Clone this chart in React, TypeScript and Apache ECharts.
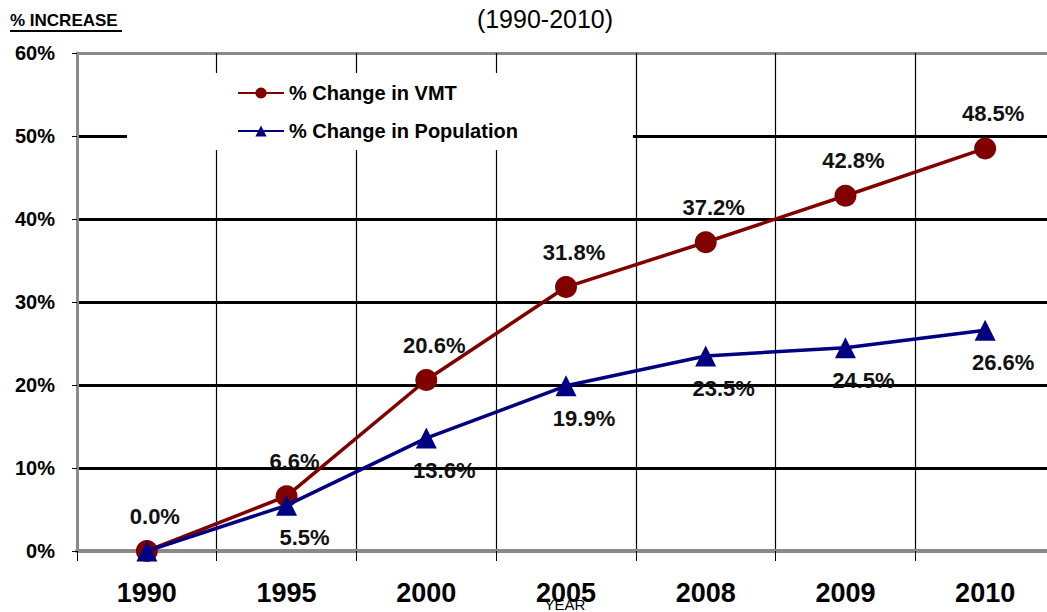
import React, { useEffect, useRef } from "react";
import * as echarts from "echarts";

const years = ["1990", "1995", "2000", "2005", "2008", "2009", "2010"];
const vmtChange = [0.0, 6.6, 20.6, 31.8, 37.2, 42.8, 48.5];
const popChange = [0.0, 5.5, 13.6, 19.9, 23.5, 24.5, 26.6];
const yTicks = [0, 10, 20, 30, 40, 50, 60];

const FONT = "'Liberation Sans', Arial, sans-serif";

export default function App() {
  const ref = useRef<HTMLDivElement>(null);
  useEffect(() => {
    if (!ref.current) return;
    const chart = echarts.init(ref.current, null, { renderer: "svg" });
    chart.setOption({
      animation: false,
      backgroundColor: "#ffffff",
      textStyle: { fontFamily: FONT },
      grid: { left: 77, width: 978, top: 53, height: 498, containLabel: false },
      graphic: [
        {
          type: "text",
          left: 10,
          top: 12,
          style: { text: "% INCREASE", font: `bold 17px ${FONT}`, fill: "#000" },
        },
        {
          type: "line",
          shape: { x1: 10, y1: 31, x2: 122, y2: 31 },
          style: { stroke: "#000", lineWidth: 2 },
        },
        {
          type: "text",
          x: 545,
          y: 19,
          style: {
            text: "(1990-2010)",
            font: `25px ${FONT}`,
            fill: "#000",
            align: "center",
            verticalAlign: "middle",
          },
        },
        {
          type: "text",
          x: 565,
          y: 604,
          z: 10,
          style: {
            text: "YEAR",
            font: `15px ${FONT}`,
            fill: "#000",
            align: "center",
            verticalAlign: "middle",
          },
        },
      ],
      legend: {
        orient: "vertical",
        left: 127,
        top: 73,
        padding: [10, 115, 9, 110],
        backgroundColor: "#ffffff",
        itemWidth: 46,
        itemHeight: 14,
        itemGap: 18,
        textStyle: { fontSize: 20, fontWeight: "bold", color: "#000", fontFamily: FONT },
        data: ["% Change in VMT", "% Change in Population"],
      },
      xAxis: {
        type: "category",
        data: years,
        boundaryGap: true,
        axisLine: { show: true, lineStyle: { color: "#8a8a8a", width: 4 } },
        axisTick: { show: true, length: 10, lineStyle: { color: "#000", width: 1 } },
        splitLine: { show: true, lineStyle: { color: "#000", width: 1.2 } },
        axisLabel: {
          margin: 28,
          fontSize: 27,
          fontWeight: "bold",
          color: "#000",
          fontFamily: FONT,
        },
      },
      yAxis: {
        type: "value",
        min: yTicks[0],
        max: yTicks[yTicks.length - 1],
        interval: 10,
        axisLine: { show: true, lineStyle: { color: "#8a8a8a", width: 3 } },
        axisTick: { show: true, length: 5, lineStyle: { color: "#000", width: 1 } },
        splitLine: {
          show: true,
          lineStyle: {
            color: ["#8a8a8a", "#000", "#000", "#000", "#000", "#000", "#8a8a8a"],
            width: 3,
          },
        },
        axisLabel: {
          margin: 22,
          fontSize: 20,
          fontWeight: "bold",
          color: "#000",
          fontFamily: FONT,
          formatter: (v: number) => `${v}%`,
        },
      },
      series: [
        {
          name: "% Change in VMT",
          type: "line",
          data: vmtChange,
          symbol: "circle",
          symbolSize: 22,
          z: 3,
          itemStyle: { color: "#800000" },
          lineStyle: { color: "#800000", width: 3.5 },
          label: {
            show: true,
            position: "top",
            distance: 5,
            offset: [8, -8],
            fontSize: 22,
            fontWeight: "bold",
            color: "#111",
            fontFamily: FONT,
            formatter: (p: any) => `${p.value.toFixed(1)}%`,
          },
        },
        {
          name: "% Change in Population",
          type: "line",
          data: popChange,
          symbol: "triangle",
          symbolSize: 21,
          z: 4,
          itemStyle: { color: "#000080" },
          lineStyle: { color: "#000080", width: 3.5 },
          label: {
            show: true,
            position: "bottom",
            distance: 5,
            offset: [18, 6],
            fontSize: 22,
            fontWeight: "bold",
            color: "#111",
            fontFamily: FONT,
            formatter: (p: any) => (p.value === 0 ? "" : `${p.value.toFixed(1)}%`),
          },
        },
      ],
    });
    return () => chart.dispose();
  }, []);
  return (
    <div style={{ position: "fixed", left: 0, top: 0, width: 1047, height: 612, overflow: "hidden" }}>
      <div ref={ref} style={{ position: "absolute", left: 0, top: 0, width: 1060, height: 612 }} />
    </div>
  );
}
